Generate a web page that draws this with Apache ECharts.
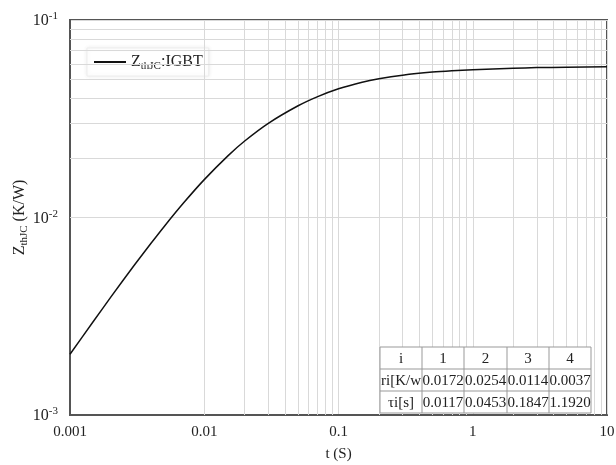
<!DOCTYPE html>
<html>
<head>
<meta charset="utf-8">
<script src="https://cdn.jsdelivr.net/npm/echarts@6/dist/echarts.min.js"></script>
<style>
  html, body { margin: 0; padding: 0; background: #fff; }
  #chart { width: 616px; height: 465px; }
</style>
</head>
<body>
<div id="chart"></div>
<script>
// t [s] and Zth [K/W]
const tValues = [0.001, 0.0015, 0.002, 0.003, 0.004, 0.005, 0.007, 0.01, 0.015, 0.02, 0.03, 0.05, 0.07,
                 0.1, 0.15, 0.2, 0.3, 0.5, 0.7, 1, 2, 3, 5, 10];
const zthValues = [0.00203, 0.00299, 0.00393, 0.00571, 0.00738, 0.00896, 0.01183, 0.01555, 0.02052, 0.02439,
                   0.02998, 0.03679, 0.04095, 0.04487, 0.04845, 0.05041, 0.05254, 0.05451, 0.05539, 0.05605,
                   0.05701, 0.05740, 0.05764, 0.05790];

const xTicks = [0.001, 0.01, 0.1, 1, 10];
const xTickLabels = ['0.001', '0.01', '0.1', '1', '10'];
const yTickExp = { 0.001: '-3', 0.01: '-2', 0.1: '-1' };

// minor grid (2..9 of each decade)
const xMinor = [];
[0.001, 0.01, 0.1, 1].forEach(function (d) { for (let k = 2; k <= 9; k++) xMinor.push(+(d * k).toPrecision(3)); });
const yMinor = [];
[0.001, 0.01].forEach(function (d) { for (let k = 2; k <= 9; k++) yMinor.push(+(d * k).toPrecision(3)); });

// parameter table
const tableHead = ['i', '1', '2', '3', '4'];
const tableRi = ['ri[K/w', '0.0172', '0.0254', '0.0114', '0.0037'];
const tableTau = ['τi[s]', '0.0117', '0.0453', '0.1847', '1.1920'];

const serif = '"Liberation Serif", "DejaVu Serif", serif';
const gridColor = '#d9d9d9';

function buildTable() {
    const rows = [tableHead, tableRi, tableTau];
    const colX = [380, 422, 464, 507, 549, 591];
    const rowY = [347, 369, 391, 413];
    const els = [{
        type: 'rect', z: 100,
        shape: { x: colX[0], y: rowY[0], width: colX[5] - colX[0], height: rowY[3] - rowY[0] },
        style: { fill: '#fff', stroke: '#999', lineWidth: 1 }
    }];
    for (let c = 1; c < 5; c++) {
        els.push({ type: 'line', z: 101, shape: { x1: colX[c], y1: rowY[0], x2: colX[c], y2: rowY[3] }, style: { stroke: '#999', lineWidth: 1 } });
    }
    for (let r = 1; r < 3; r++) {
        els.push({ type: 'line', z: 101, shape: { x1: colX[0], y1: rowY[r], x2: colX[5], y2: rowY[r] }, style: { stroke: '#999', lineWidth: 1 } });
    }
    rows.forEach(function (row, r) {
        row.forEach(function (txt, c) {
            els.push({
                type: 'text', z: 102,
                style: {
                    x: (colX[c] + colX[c + 1]) / 2, y: (rowY[r] + rowY[r + 1]) / 2 + 1,
                    text: txt, align: 'center', verticalAlign: 'middle',
                    font: '15px ' + serif, fill: '#222'
                }
            });
        });
    });
    return els;
}

const chart = echarts.init(document.getElementById('chart'));
chart.setOption({
    animation: false,
    backgroundColor: '#fff',
    grid: {
        left: 70, right: 9, top: 20, bottom: 50,
        outerBoundsMode: 'none', containLabel: false,
        show: true, borderColor: '#555', borderWidth: 2
    },
    legend: {
        data: ['zth'],
        left: 87, top: 48,
        itemWidth: 32, itemHeight: 2, itemGap: 4,
        padding: [4, 6, 4, 6],
        backgroundColor: '#fff',
        borderColor: '#eee', borderWidth: 1,
        shadowColor: 'rgba(0,0,0,0.08)', shadowBlur: 4,
        formatter: function () { return '{a|Z}{s|thJC}{a|:IGBT}'; },
        textStyle: {
            rich: {
                a: { fontFamily: serif, fontSize: 16, color: '#222', lineHeight: 20, verticalAlign: 'middle' },
                s: { fontFamily: serif, fontSize: 11, color: '#222', lineHeight: 20, verticalAlign: 'bottom', padding: [9, 0, 0, 0] }
            }
        }
    },
    xAxis: {
        type: 'log', logBase: 10, min: 0.001, max: 10,
        name: 't (S)', nameLocation: 'middle', nameGap: 32, nameMoveOverlap: false,
        nameTextStyle: { fontFamily: serif, fontSize: 15, color: '#222' },
        axisLine: { show: true, lineStyle: { color: '#555', width: 2 } },
        axisTick: { show: false },
        axisLabel: {
            fontFamily: serif, fontSize: 15, color: '#222', margin: 10,
            formatter: function (v) {
                const i = xTicks.findIndex(function (t) { return Math.abs(Math.log10(t) - Math.log10(v)) < 1e-6; });
                return i >= 0 ? xTickLabels[i] : '';
            }
        },
        splitLine: { show: true, lineStyle: { color: gridColor, width: 1 } }
    },
    yAxis: {
        type: 'log', logBase: 10, min: 0.001, max: 0.1,
        name: '{a|Z}{s|thJC}{a| (K/W)}', nameLocation: 'middle', nameGap: 40, nameMoveOverlap: false,
        nameTextStyle: {
            rich: {
                a: { fontFamily: serif, fontSize: 16, color: '#222', lineHeight: 20, verticalAlign: 'middle' },
                s: { fontFamily: serif, fontSize: 11, color: '#222', lineHeight: 20, verticalAlign: 'bottom', padding: [9, 0, 0, 0] }
            }
        },
        axisLine: { show: true, lineStyle: { color: '#555', width: 2 } },
        axisTick: { show: false },
        axisLabel: {
            margin: 12,
            formatter: function (v) {
                let key = null;
                Object.keys(yTickExp).forEach(function (k) {
                    if (Math.abs(Math.log10(+k) - Math.log10(v)) < 1e-6) key = k;
                });
                return key ? '{b|10}{p|' + yTickExp[key] + '}' : '';
            },
            rich: {
                b: { fontFamily: serif, fontSize: 16, color: '#222', verticalAlign: 'bottom', lineHeight: 18 },
                p: { fontFamily: serif, fontSize: 11, color: '#222', verticalAlign: 'top', lineHeight: 18, padding: [0, 0, 8, 0] }
            }
        },
        splitLine: { show: true, lineStyle: { color: gridColor, width: 1 } }
    },
    series: [
        {
            name: 'minor', type: 'line', data: [], z: 1, silent: true,
            markLine: {
                silent: true, symbol: ['none', 'none'], animation: false,
                label: { show: false },
                lineStyle: { color: gridColor, type: 'solid', width: 1 },
                emphasis: { disabled: true },
                data: xMinor.map(function (v) { return { xAxis: v }; })
                    .concat(yMinor.map(function (v) { return { yAxis: v }; }))
            }
        },
        {
            name: 'zth', type: 'line', z: 5,
            data: tValues.map(function (t, i) { return [t, zthValues[i]]; }),
            showSymbol: false, symbol: 'none', smooth: 0.2,
            lineStyle: { color: '#111', width: 1.5 },
            itemStyle: { color: '#111' }
        }
    ],
    graphic: buildTable()
});
</script>
</body>
</html>
